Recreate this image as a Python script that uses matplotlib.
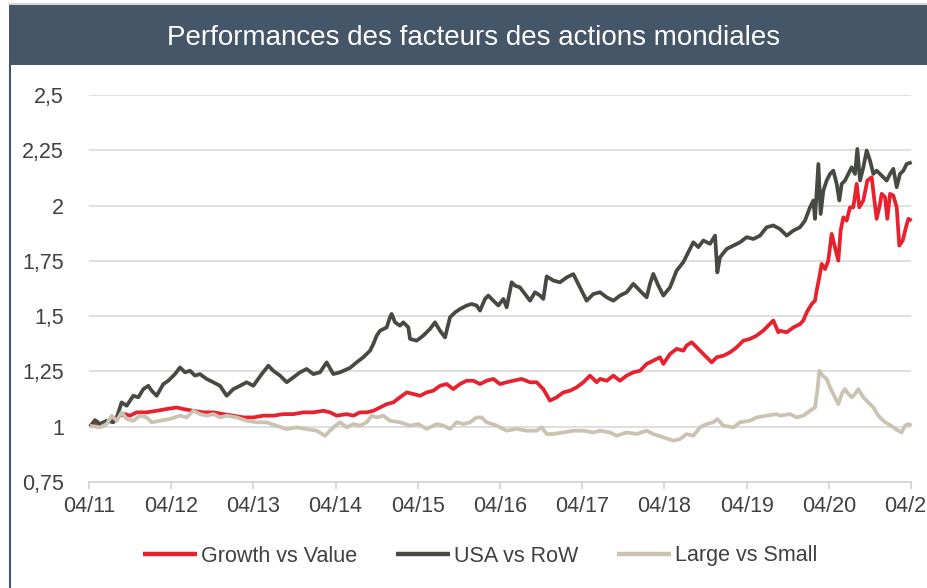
import matplotlib
matplotlib.use("Agg")
import matplotlib.pyplot as plt
from matplotlib.patches import Rectangle
from matplotlib.lines import Line2D

plt.rcParams["font.family"] = ["Liberation Sans", "DejaVu Sans"]

# Decimal-year dates and index levels (base 1 = April 2011)
usa_dates = [2011.262, 2011.323, 2011.384, 2011.465, 2011.546, 2011.587, 2011.647, 2011.708,
             2011.789, 2011.850, 2011.911, 2011.972, 2012.012, 2012.073, 2012.154, 2012.215,
             2012.296, 2012.357, 2012.418, 2012.479, 2012.540, 2012.600, 2012.681, 2012.763,
             2012.844, 2012.925, 2013.006, 2013.087, 2013.168, 2013.249, 2013.351, 2013.432,
             2013.492, 2013.574, 2013.655, 2013.736, 2013.817, 2013.898, 2013.979, 2014.060,
             2014.141, 2014.222, 2014.304, 2014.425, 2014.506, 2014.587, 2014.669, 2014.709,
             2014.750, 2014.790, 2014.871, 2014.912, 2014.932, 2014.973, 2015.033, 2015.074,
             2015.135, 2015.155, 2015.236, 2015.317, 2015.398, 2015.459, 2015.520, 2015.581,
             2015.642, 2015.703, 2015.763, 2015.845, 2015.905, 2015.966, 2016.007, 2016.068,
             2016.108, 2016.169, 2016.230, 2016.291, 2016.331, 2016.392, 2016.432, 2016.493,
             2016.554, 2016.615, 2016.676, 2016.737, 2016.777, 2016.818, 2016.899, 2016.980,
             2017.061, 2017.142, 2017.223, 2017.304, 2017.385, 2017.467, 2017.548, 2017.629,
             2017.710, 2017.791, 2017.872, 2017.953, 2018.034, 2018.075, 2018.115, 2018.176,
             2018.237, 2018.318, 2018.399, 2018.480, 2018.541, 2018.602, 2018.663, 2018.724,
             2018.805, 2018.866, 2018.894, 2018.926, 2019.008, 2019.089, 2019.170, 2019.251,
             2019.332, 2019.413, 2019.494, 2019.575, 2019.656, 2019.738, 2019.819, 2019.900,
             2019.960, 2020.021, 2020.062, 2020.082, 2020.123, 2020.151, 2020.184, 2020.224,
             2020.265, 2020.305, 2020.346, 2020.378, 2020.407, 2020.447, 2020.488, 2020.528,
             2020.569, 2020.597, 2020.630, 2020.670, 2020.711, 2020.751, 2020.792, 2020.832,
             2020.873, 2020.913, 2020.954, 2020.995, 2021.035, 2021.076, 2021.116, 2021.157,
             2021.197, 2021.258]
usa_vs_row = [1.000, 1.030, 1.012, 1.027, 1.020, 1.042, 1.110, 1.095,
              1.140, 1.133, 1.170, 1.185, 1.163, 1.140, 1.193, 1.208,
              1.238, 1.268, 1.246, 1.253, 1.231, 1.238, 1.216, 1.201,
              1.185, 1.140, 1.170, 1.185, 1.201, 1.185, 1.238, 1.276,
              1.253, 1.231, 1.201, 1.223, 1.246, 1.261, 1.238, 1.246,
              1.291, 1.238, 1.246, 1.266, 1.291, 1.314, 1.344, 1.374,
              1.412, 1.434, 1.449, 1.495, 1.510, 1.472, 1.457, 1.472,
              1.449, 1.397, 1.389, 1.412, 1.442, 1.472, 1.434, 1.404,
              1.495, 1.517, 1.532, 1.548, 1.555, 1.548, 1.525, 1.578,
              1.593, 1.570, 1.548, 1.578, 1.540, 1.653, 1.638, 1.630,
              1.600, 1.570, 1.608, 1.593, 1.578, 1.680, 1.661, 1.653,
              1.675, 1.690, 1.630, 1.570, 1.600, 1.608, 1.585, 1.570,
              1.593, 1.608, 1.646, 1.615, 1.585, 1.646, 1.691, 1.638,
              1.593, 1.630, 1.706, 1.744, 1.789, 1.834, 1.812, 1.842,
              1.827, 1.864, 1.698, 1.766, 1.804, 1.819, 1.834, 1.857,
              1.849, 1.864, 1.902, 1.910, 1.894, 1.864, 1.887, 1.902,
              1.932, 1.992, 2.023, 1.940, 2.188, 1.962, 2.068, 2.113,
              2.143, 2.158, 2.098, 2.023, 2.098, 2.113, 2.143, 2.173,
              2.143, 2.256, 2.113, 2.173, 2.249, 2.204, 2.143, 2.158,
              2.143, 2.128, 2.113, 2.143, 2.166, 2.083, 2.143, 2.158,
              2.188, 2.196]

growth_dates = [2011.262, 2011.384, 2011.505, 2011.627, 2011.688, 2011.749, 2011.830, 2011.952,
                2012.073, 2012.195, 2012.317, 2012.398, 2012.519, 2012.641, 2012.763, 2012.884,
                2013.006, 2013.128, 2013.249, 2013.371, 2013.492, 2013.614, 2013.736, 2013.857,
                2013.979, 2014.101, 2014.182, 2014.263, 2014.385, 2014.466, 2014.547, 2014.628,
                2014.709, 2014.790, 2014.871, 2014.952, 2015.033, 2015.115, 2015.196, 2015.277,
                2015.358, 2015.439, 2015.520, 2015.601, 2015.682, 2015.763, 2015.845, 2015.926,
                2016.007, 2016.088, 2016.169, 2016.250, 2016.331, 2016.412, 2016.514, 2016.615,
                2016.696, 2016.777, 2016.858, 2016.939, 2017.020, 2017.102, 2017.183, 2017.264,
                2017.345, 2017.426, 2017.467, 2017.548, 2017.629, 2017.710, 2017.791, 2017.872,
                2017.953, 2018.034, 2018.115, 2018.196, 2018.237, 2018.318, 2018.399, 2018.480,
                2018.521, 2018.582, 2018.643, 2018.683, 2018.764, 2018.825, 2018.886, 2018.967,
                2019.048, 2019.129, 2019.210, 2019.291, 2019.372, 2019.454, 2019.514, 2019.575,
                2019.636, 2019.656, 2019.738, 2019.819, 2019.900, 2019.940, 2019.981, 2020.042,
                2020.082, 2020.102, 2020.135, 2020.163, 2020.204, 2020.244, 2020.285, 2020.325,
                2020.366, 2020.394, 2020.427, 2020.467, 2020.508, 2020.548, 2020.589, 2020.621,
                2020.670, 2020.719, 2020.772, 2020.800, 2020.832, 2020.873, 2020.893, 2020.934,
                2020.962, 2020.995, 2021.035, 2021.076, 2021.108, 2021.149, 2021.189, 2021.218,
                2021.258]
growth_vs_value = [1.004, 1.012, 1.027, 1.050, 1.057, 1.050, 1.065, 1.065,
                   1.072, 1.080, 1.087, 1.080, 1.072, 1.065, 1.065, 1.057,
                   1.050, 1.042, 1.042, 1.050, 1.050, 1.057, 1.057, 1.065,
                   1.065, 1.072, 1.065, 1.050, 1.057, 1.050, 1.065, 1.065,
                   1.072, 1.087, 1.102, 1.110, 1.133, 1.155, 1.148, 1.140,
                   1.155, 1.163, 1.185, 1.193, 1.170, 1.193, 1.208, 1.208,
                   1.193, 1.208, 1.216, 1.193, 1.201, 1.208, 1.216, 1.201,
                   1.201, 1.170, 1.118, 1.133, 1.155, 1.163, 1.178, 1.201,
                   1.231, 1.201, 1.216, 1.208, 1.231, 1.208, 1.231, 1.246,
                   1.253, 1.284, 1.299, 1.314, 1.284, 1.329, 1.352, 1.344,
                   1.367, 1.382, 1.359, 1.344, 1.314, 1.291, 1.314, 1.321,
                   1.336, 1.359, 1.389, 1.397, 1.412, 1.435, 1.457, 1.480,
                   1.427, 1.434, 1.427, 1.449, 1.464, 1.480, 1.517, 1.555,
                   1.570, 1.615, 1.676, 1.736, 1.713, 1.751, 1.872, 1.811,
                   1.751, 1.887, 1.947, 1.932, 1.992, 1.992, 2.098, 1.992,
                   2.023, 2.113, 2.128, 2.038, 1.940, 2.007, 2.053, 2.038,
                   1.940, 2.053, 2.045, 1.992, 1.819, 1.842, 1.902, 1.940,
                   1.932]

large_dates = [2011.262, 2011.384, 2011.465, 2011.526, 2011.587, 2011.647, 2011.708, 2011.789,
               2011.870, 2011.952, 2012.012, 2012.114, 2012.235, 2012.357, 2012.438, 2012.519,
               2012.600, 2012.681, 2012.763, 2012.844, 2012.925, 2013.046, 2013.168, 2013.290,
               2013.411, 2013.533, 2013.655, 2013.776, 2013.898, 2014.020, 2014.121, 2014.222,
               2014.304, 2014.385, 2014.466, 2014.547, 2014.628, 2014.689, 2014.750, 2014.831,
               2014.912, 2015.033, 2015.155, 2015.256, 2015.358, 2015.480, 2015.561, 2015.642,
               2015.723, 2015.804, 2015.885, 2015.966, 2016.027, 2016.088, 2016.210, 2016.331,
               2016.453, 2016.574, 2016.696, 2016.757, 2016.818, 2016.899, 2017.020, 2017.142,
               2017.264, 2017.385, 2017.467, 2017.588, 2017.669, 2017.791, 2017.913, 2018.034,
               2018.115, 2018.237, 2018.358, 2018.440, 2018.521, 2018.602, 2018.683, 2018.764,
               2018.845, 2018.894, 2018.967, 2019.089, 2019.170, 2019.291, 2019.372, 2019.494,
               2019.616, 2019.656, 2019.778, 2019.859, 2019.940, 2020.021, 2020.082, 2020.111,
               2020.135, 2020.175, 2020.224, 2020.265, 2020.305, 2020.366, 2020.407, 2020.447,
               2020.488, 2020.528, 2020.569, 2020.609, 2020.670, 2020.731, 2020.792, 2020.853,
               2020.913, 2020.974, 2021.035, 2021.096, 2021.136, 2021.177, 2021.218, 2021.258]
large_vs_small = [1.004, 0.997, 1.012, 1.050, 1.027, 1.065, 1.035, 1.027,
                  1.050, 1.042, 1.020, 1.027, 1.035, 1.050, 1.042, 1.072,
                  1.057, 1.050, 1.057, 1.042, 1.050, 1.042, 1.027, 1.020,
                  1.020, 1.004, 0.989, 0.997, 0.989, 0.982, 0.959, 0.997,
                  1.020, 0.997, 1.012, 1.005, 1.020, 1.050, 1.042, 1.050,
                  1.027, 1.020, 1.005, 1.012, 0.990, 1.012, 1.005, 0.990,
                  1.020, 1.012, 1.020, 1.042, 1.042, 1.020, 1.005, 0.982,
                  0.990, 0.982, 0.982, 0.997, 0.967, 0.967, 0.974, 0.982,
                  0.982, 0.974, 0.982, 0.974, 0.959, 0.974, 0.967, 0.982,
                  0.967, 0.952, 0.937, 0.944, 0.967, 0.959, 0.997, 1.012,
                  1.020, 1.035, 1.005, 0.997, 1.020, 1.027, 1.042, 1.050,
                  1.057, 1.050, 1.057, 1.042, 1.050, 1.072, 1.087, 1.163,
                  1.253, 1.231, 1.216, 1.178, 1.148, 1.102, 1.148, 1.170,
                  1.148, 1.133, 1.148, 1.170, 1.133, 1.110, 1.087, 1.050,
                  1.027, 1.012, 0.997, 0.982, 0.974, 1.005, 1.012, 1.005]

series_names = ["Growth vs Value", "USA vs RoW", "Large vs Small"]
series_colors = ["#e8212e", "#474a42", "#cbc3b2"]

x_ticks = [2011.25 + k for k in range(11)]
x_tick_labels = ["04/%02d" % (11 + k) for k in range(11)]
y_ticks = [0.75, 1.0, 1.25, 1.5, 1.75, 2.0, 2.25, 2.5]
y_tick_labels = ["0,75", "1", "1,25", "1,5", "1,75", "2", "2,25", "2,5"]

W, H = 928, 588
fig = plt.figure(figsize=(W / 100, H / 100), dpi=100)
fig.patch.set_facecolor("white")

# Title banner and frame lines
fig.add_artist(Rectangle((9 / W, 1 - 65 / H), 1 - 9 / W, 60 / H,
                         transform=fig.transFigure, facecolor="#445668",
                         edgecolor="none", zorder=0))
fig.add_artist(Line2D([9 / W, 1], [1 - 4 / H, 1 - 4 / H], transform=fig.transFigure,
                      color="#d0d0d0", lw=1.2))
fig.add_artist(Line2D([10 / W, 10 / W], [0, 1 - 65 / H], transform=fig.transFigure,
                      color="#445668", lw=1.5))
fig.text(474 / W, 1 - 38 / H, "Performances des facteurs des actions mondiales",
         color="white", fontsize=20, ha="center", va="center")

ax = fig.add_axes([89 / W, 1 - 482 / H, (911 - 89) / W, (482 - 95) / H])
ax.set_facecolor("none")

all_dates = [growth_dates, usa_dates, large_dates]
all_values = [growth_vs_value, usa_vs_row, large_vs_small]
for d, v, name, c in zip(all_dates, all_values, series_names, series_colors):
    ax.plot(d, v, color=c, lw=2.7, label=name, solid_joinstyle="round",
            solid_capstyle="butt", clip_on=False)

ax.set_xlim(2011.25, 2021.25)
ax.set_ylim(0.75, 2.5)
ax.set_yticks(y_ticks)
ax.set_yticklabels(y_tick_labels)
ax.set_xticks(x_ticks)
ax.set_xticklabels(x_tick_labels)
ax.grid(axis="y", color="#dcdcdc", lw=1.3)
ax.set_axisbelow(True)
for s in ["top", "right", "left"]:
    ax.spines[s].set_visible(False)
ax.spines["bottom"].set_color("#d6d6d6")
ax.spines["bottom"].set_linewidth(1.3)
ax.tick_params(axis="y", length=0, pad=18, labelsize=15.5, labelcolor="#404040")
ax.tick_params(axis="x", length=5, width=1.3, color="#d6d6d6", pad=5,
               labelsize=15.5, labelcolor="#404040")

leg = fig.legend(loc="center", bbox_to_anchor=(480 / W, 1 - 556 / H), ncol=3,
                 frameon=False, fontsize=15.5, handlelength=2.5, handletextpad=0.2,
                 columnspacing=1.8, labelcolor="#404040")
for line in leg.get_lines():
    line.set_linewidth(3.2)

fig.savefig("out.png", dpi=100)
